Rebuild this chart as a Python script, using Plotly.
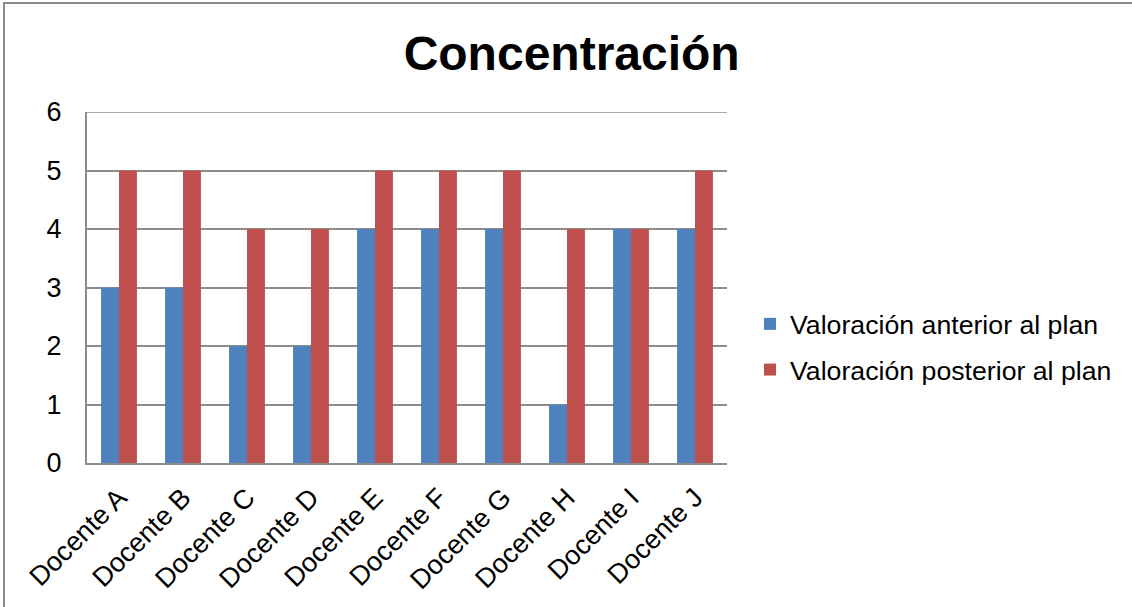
import plotly.graph_objects as go

categories = ["Docente A", "Docente B", "Docente C", "Docente D", "Docente E",
              "Docente F", "Docente G", "Docente H", "Docente I", "Docente J"]
antes = [3, 3, 2, 2, 4, 4, 4, 1, 4, 4]
despues = [5, 5, 4, 4, 5, 5, 5, 4, 4, 5]
series_names = ["Valoración anterior al plan", "Valoración posterior al plan"]
y_ticks = [0, 1, 2, 3, 4, 5, 6]

FONT = "Liberation Sans, Arial, sans-serif"
GRID = "#8c8c8c"

fig = go.Figure()
fig.add_trace(go.Bar(x=categories, y=antes, name=series_names[0],
                     marker=dict(color="#4F81BD", line=dict(width=0)),
                     legendgroup="a"))
fig.add_trace(go.Bar(x=categories, y=despues, name=series_names[1],
                     marker=dict(color="#C0504D", line=dict(width=0)),
                     legendgroup="b"))

L, R, T, B = 87, 405, 112, 144
W, H = 1132, 607
pw, ph = W - L - R, H - T - B

fig.update_layout(
    width=W, height=H,
    margin=dict(l=L, r=R, t=T, b=B, autoexpand=False),
    paper_bgcolor="white", plot_bgcolor="white",
    barmode="group", bargap=0.44, bargroupgap=0,
    font=dict(family=FONT, size=27, color="black"),
    title=dict(text="<b>Concentración</b>", x=0.505, xanchor="center",
               y=1 - 53 / H, yanchor="middle",
               font=dict(family=FONT, size=48, color="black")),
    legend=dict(x=(750 - L) / pw, y=(463 - 347) / ph, xanchor="left", yanchor="middle",
                font=dict(family=FONT, size=26.7, color="black"),
                traceorder="grouped", tracegroupgap=8,
                bgcolor="rgba(0,0,0,0)"),
    xaxis=dict(tickangle=-45, showgrid=False, showline=True, linecolor=GRID,
               linewidth=2, ticks="", tickfont=dict(size=27), ticklabelstandoff=6),
    yaxis=dict(range=[0, 6], tickvals=y_ticks, showgrid=True, gridcolor=GRID,
               gridwidth=1.5, showline=True, linecolor=GRID, linewidth=2,
               zeroline=False, ticks="", ticklabelstandoff=18, tickfont=dict(size=27)),
    shapes=[
        dict(type="rect", xref="paper", yref="paper",
             x0=(4 - L) / pw, x1=(W + 20 - L) / pw,
             y0=(H - B - (H + 20)) / ph, y1=(H - B - 3) / ph,
             line=dict(color=GRID, width=2), fillcolor="rgba(0,0,0,0)",
             layer="below"),
        dict(type="line", xref="paper", yref="y", x0=0, x1=1,
             y0=y_ticks[-1], y1=y_ticks[-1],
             line=dict(color=GRID, width=1.5), layer="below"),
    ],
)

fig.write_html("out.html", config={"displayModeBar": False},
               post_script="document.body.style.margin='0';document.body.style.overflow='hidden';")
